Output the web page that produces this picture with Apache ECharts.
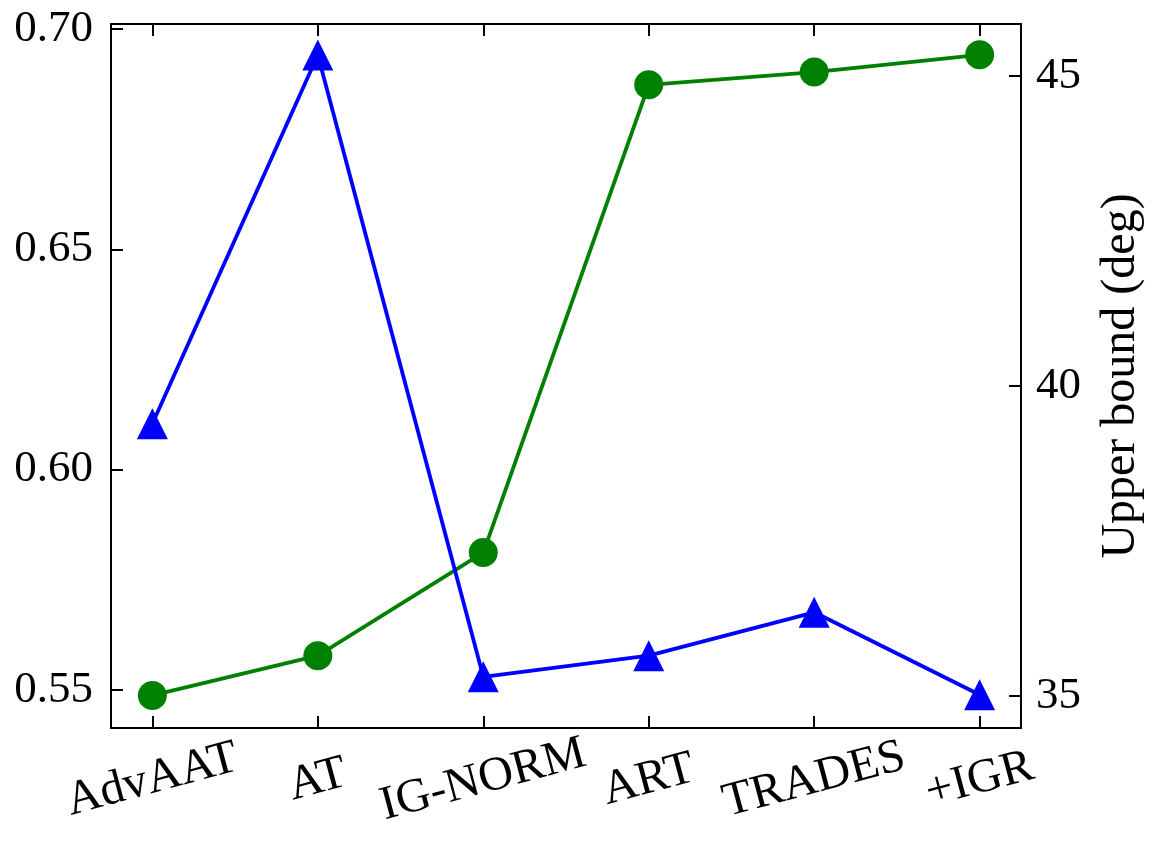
<!DOCTYPE html>
<html lang="en">
<head>
    <meta charset="UTF-8">
    <title>Upper bound chart</title>
    <style>
        html, body { margin: 0; padding: 0; background: #fff; }
        #main { width: 1158px; height: 857px; }
    </style>
    <script src="https://cdn.jsdelivr.net/npm/echarts@6/dist/echarts.min.js"></script>
</head>
<body>
<div id="main"></div>
<script>
    // categories along x
    var methods = ['AdvAAT', 'AT', 'IG-NORM', 'ART', 'TRADES', '+IGR'];
    // green circles, left axis
    var leftValues = [0.5488, 0.5578, 0.5812, 0.6873, 0.6902, 0.6941];
    // blue triangles, right axis (deg)
    var rightValues = [39.39, 45.34, 35.31, 35.65, 36.35, 35.02];
    // tick labels
    var leftTicks = [0.55, 0.60, 0.65, 0.70];
    var rightTicks = [35, 40, 45];
    var xTicks = [0, 1, 2, 3, 4, 5];

    var font = 'Liberation Serif';
    var axisColor = '#000';
    var tickStyle = { color: axisColor, width: 2 };

    function pairs(vals) {
        return vals.map(function (v, i) { return [i, v]; });
    }

    var chart = echarts.init(document.getElementById('main'));
    chart.setOption({
        animation: false,
        backgroundColor: '#fff',
        grid: { left: 111, right: 137, top: 24, bottom: 129 },
        xAxis: [
            {
                type: 'value', min: -0.25, max: 5.25, position: 'bottom',
                axisLine: { onZero: false, lineStyle: tickStyle },
                axisTick: { inside: true, length: 12, customValues: xTicks, lineStyle: tickStyle },
                axisLabel: {
                    customValues: xTicks, rotate: 15, align: 'center', verticalAlign: 'middle',
                    margin: 52, fontFamily: font, fontSize: 48, color: '#000',
                    formatter: function (v) { return methods[Math.round(v)]; }
                },
                splitLine: { show: false }
            },
            {
                type: 'value', min: -0.25, max: 5.25, position: 'top',
                axisLine: { onZero: false, lineStyle: tickStyle },
                axisTick: { inside: true, length: 12, customValues: xTicks, lineStyle: tickStyle },
                axisLabel: { show: false },
                splitLine: { show: false }
            }
        ],
        yAxis: [
            {
                type: 'value', min: 0.5414, max: 0.7011, position: 'left',
                axisLine: { show: true, onZero: false, lineStyle: tickStyle },
                axisTick: { show: true, inside: true, length: 12, customValues: leftTicks, lineStyle: tickStyle },
                axisLabel: {
                    customValues: leftTicks, margin: 18, fontFamily: font, fontSize: 45, color: '#000',
                    formatter: function (v) { return v.toFixed(2); }
                },
                splitLine: { show: false }
            },
            {
                type: 'value', min: 34.484, max: 45.839, position: 'right',
                name: 'Upper bound (deg)', nameLocation: 'middle', nameRotate: 90, nameGap: 76,
                nameTextStyle: { fontFamily: font, fontSize: 48, color: '#000' },
                axisLine: { show: true, onZero: false, lineStyle: tickStyle },
                axisTick: { show: true, inside: true, length: 12, customValues: rightTicks, lineStyle: tickStyle },
                axisLabel: { customValues: rightTicks, margin: 15, fontFamily: font, fontSize: 45, color: '#000' },
                splitLine: { show: false }
            }
        ],
        series: [
            {
                type: 'line', xAxisIndex: 0, yAxisIndex: 0,
                data: pairs(leftValues),
                symbol: 'circle', symbolSize: 29,
                lineStyle: { color: '#008000', width: 3.8 },
                itemStyle: { color: '#008000' }
            },
            {
                type: 'line', xAxisIndex: 0, yAxisIndex: 1,
                data: pairs(rightValues),
                symbol: 'triangle', symbolSize: [31, 31],
                lineStyle: { color: '#0000ff', width: 3.8 },
                itemStyle: { color: '#0000ff' }
            }
        ]
    });
</script>
</body>
</html>
